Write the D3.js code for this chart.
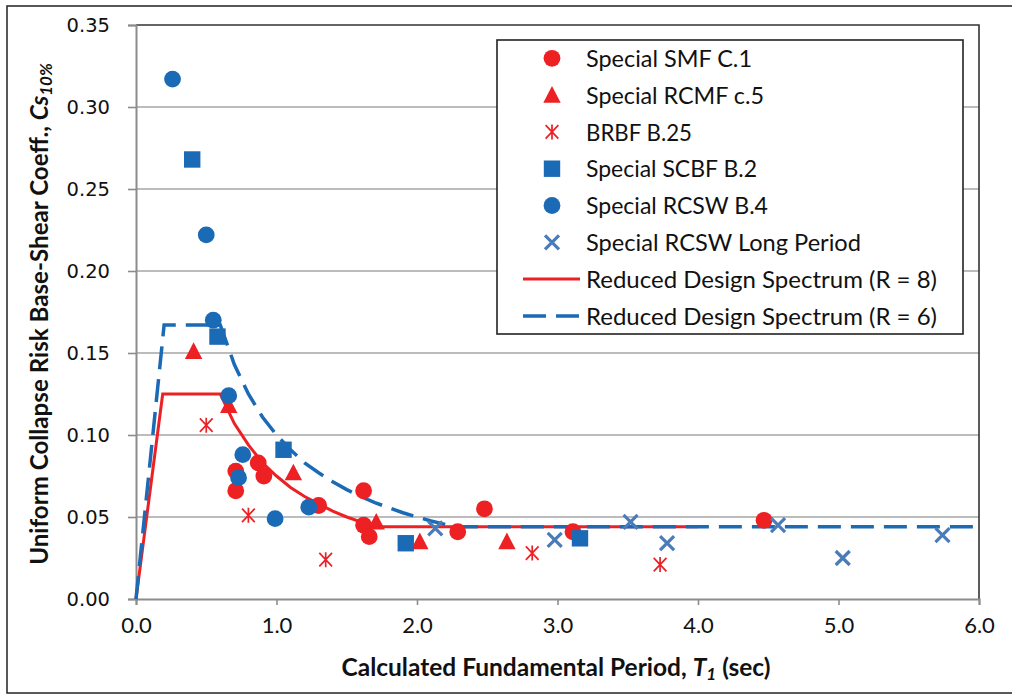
<!DOCTYPE html>
<html><head><meta charset="utf-8">
<script src="https://cdn.jsdelivr.net/npm/d3@7"></script>
<style>
html,body{margin:0;padding:0;background:#fff;}
svg{display:block;}
</style></head>
<body>
<svg id="chart" width="1012" height="698"></svg>
<script>
// ---- data ----
const smfT  = [0.71, 0.71, 0.87, 0.91, 1.30, 1.62, 1.62, 1.66, 2.29, 2.48, 3.11, 4.47];
const smfCs = [0.078, 0.066, 0.083, 0.075, 0.057, 0.066, 0.045, 0.038, 0.041, 0.055, 0.041, 0.048];
const rcmfT  = [0.41, 0.66, 1.12, 1.71, 2.02, 2.64];
const rcmfCs = [0.151, 0.118, 0.077, 0.047, 0.035, 0.035];
const brbfT  = [0.50, 0.80, 1.35, 2.82, 3.73];
const brbfCs = [0.106, 0.051, 0.024, 0.028, 0.021];
const scbfT  = [0.40, 0.58, 1.05, 1.92, 3.16];
const scbfCs = [0.268, 0.160, 0.091, 0.034, 0.037];
const rcswT  = [0.26, 0.50, 0.55, 0.66, 0.76, 0.73, 0.99, 1.23];
const rcswCs = [0.317, 0.222, 0.170, 0.124, 0.088, 0.074, 0.049, 0.056];
const longT  = [2.13, 2.98, 3.52, 3.78, 4.57, 5.03, 5.74];
const longCs = [0.043, 0.036, 0.047, 0.034, 0.045, 0.025, 0.039];
const r8T  = [0, 0.19, 0.60, 0.70, 0.80, 0.90, 1.00, 1.10, 1.20, 1.30, 1.40, 1.50, 1.60, 1.70, 4.00];
const r8Cs = [0, 0.125, 0.125, 0.107, 0.094, 0.083, 0.075, 0.068, 0.0625, 0.058, 0.0536, 0.050, 0.047, 0.044, 0.044];
const r6T  = [0, 0.20, 0.60, 0.70, 0.80, 0.90, 1.00, 1.10, 1.20, 1.30, 1.40, 1.50, 1.60, 1.70, 1.80, 1.90, 2.00, 2.10, 2.20, 2.27, 6.00];
const r6Cs = [0, 0.167, 0.167, 0.143, 0.125, 0.111, 0.100, 0.091, 0.083, 0.077, 0.0715, 0.0667, 0.0625, 0.0588, 0.0556, 0.0526, 0.050, 0.0476, 0.0455, 0.044, 0.044];
const xTicks = [0, 1, 2, 3, 4, 5, 6];
const yTicks = [0, 0.05, 0.10, 0.15, 0.20, 0.25, 0.30, 0.35];
const legendLabels = ["Special SMF C.1", "Special RCMF c.5", "BRBF B.25", "Special SCBF B.2",
  "Special RCSW B.4", "Special RCSW Long Period", "Reduced Design Spectrum (R = 8)", "Reduced Design Spectrum (R = 6)"];
const legendWidths = [166, 178, 106, 171, 182, 275, 351, 351];

const RED = "#ED2024", BLUE = "#1B6AB5", XBLUE = "#4A7CBA";
const FONT = "Lato, 'Open Sans', sans-serif";

const svg = d3.select("#chart");
const L = 136, R = 979, T = 25, B = 599;
const x = d3.scaleLinear().domain([0, 6]).range([L, R]);
const y = d3.scaleLinear().domain([0, 0.35]).range([B, T]);

// outer frame
svg.append("rect").attr("x", 7).attr("y", 6).attr("width", 1015).attr("height", 687)
  .attr("fill", "#fff").attr("stroke", "#222").attr("stroke-width", 1.5);

// gridlines
svg.append("g").selectAll("line").data(yTicks.filter(d => d > 0 && d < 0.35)).join("line")
  .attr("x1", L).attr("x2", R).attr("y1", d => y(d)).attr("y2", d => y(d))
  .attr("stroke", "#A6A6A6").attr("stroke-width", 1.6);

// plot border (top & right dark)
svg.append("path").attr("d", `M${L},${T}H${R}V${B}`).attr("fill", "none")
  .attr("stroke", "#333").attr("stroke-width", 1.6);

// axes
const yAxis = d3.axisLeft(y).tickValues(yTicks).tickFormat(d3.format(".2f")).tickSize(8).tickPadding(18);
const gy = svg.append("g").attr("transform", `translate(${L},0)`).call(yAxis);
gy.select(".domain").attr("stroke", "#8C8C8C").attr("stroke-width", 2);
gy.selectAll(".tick line").attr("stroke", "#8C8C8C").attr("stroke-width", 1.6);
gy.selectAll(".tick text").attr("font-family", "'DejaVu Sans', Verdana, sans-serif")
  .attr("font-size", 19.5).attr("fill", "#111").attr("x", -26);

const xAxis = d3.axisBottom(x).tickValues(xTicks).tickFormat(d3.format(".1f")).tickSize(6).tickPadding(12);
const gx = svg.append("g").attr("transform", `translate(0,${B})`).call(xAxis);
gx.select(".domain").attr("stroke", "#8C8C8C").attr("stroke-width", 2);
gx.selectAll(".tick line").attr("stroke", "#8C8C8C").attr("stroke-width", 1.6);
gx.selectAll(".tick text").attr("font-family", FONT).attr("font-size", 22).attr("fill", "#111");

// spectrum lines
const line = d3.line().x(d => x(d[0])).y(d => y(d[1]));
svg.append("path").datum(r8T.map((t, i) => [t, r8Cs[i]])).attr("d", line)
  .attr("fill", "none").attr("stroke", RED).attr("stroke-width", 3);
svg.append("path").datum(r6T.map((t, i) => [t, r6Cs[i]])).attr("d", line)
  .attr("fill", "none").attr("stroke", BLUE).attr("stroke-width", 3.5).attr("stroke-dasharray", "23,10");

// marker drawers
function drawMarker(g, kind, cx, cy) {
  const c = g.attr("data-c");
  if (kind === "circle") {
    g.append("circle").attr("cx", cx).attr("cy", cy).attr("r", 8.4).attr("fill", c);
  } else if (kind === "square") {
    g.append("rect").attr("x", cx - 8.2).attr("y", cy - 8.2).attr("width", 16.4).attr("height", 16.4).attr("fill", c);
  } else if (kind === "triangle") {
    g.append("path").attr("d", `M${cx},${cy - 9}L${cx + 8.7},${cy + 7.6}L${cx - 8.7},${cy + 7.6}Z`).attr("fill", c);
  } else if (kind === "star") {
    const s = 7.5;
    g.append("path").attr("d", `M${cx - s * 0.85},${cy - s * 0.9}L${cx + s * 0.85},${cy + s * 0.9}M${cx + s * 0.85},${cy - s * 0.9}L${cx - s * 0.85},${cy + s * 0.9}M${cx},${cy - s}V${cy + s}`)
      .attr("stroke", c).attr("stroke-width", 1.7).attr("fill", "none");
  } else if (kind === "x") {
    const s = 7;
    g.append("path").attr("d", `M${cx - s},${cy - s}L${cx + s},${cy + s}M${cx + s},${cy - s}L${cx - s},${cy + s}`)
      .attr("stroke", c).attr("stroke-width", 3.2).attr("fill", "none");
  }
}
const series = [
  {T: smfT, C: smfCs, kind: "circle", color: RED},
  {T: rcmfT, C: rcmfCs, kind: "triangle", color: RED},
  {T: brbfT, C: brbfCs, kind: "star", color: RED},
  {T: scbfT, C: scbfCs, kind: "square", color: BLUE},
  {T: rcswT, C: rcswCs, kind: "circle", color: BLUE},
  {T: longT, C: longCs, kind: "x", color: XBLUE},
];
series.forEach(s => {
  const g = svg.append("g").attr("data-c", s.color);
  s.T.forEach((t, i) => drawMarker(g, s.kind, x(t), y(s.C[i])));
});

// legend
const lg = svg.append("g");
lg.append("rect").attr("x", 497).attr("y", 40).attr("width", 466).attr("height", 294)
  .attr("fill", "#fff").attr("stroke", "#222").attr("stroke-width", 1.6);
const legendKinds = ["circle", "triangle", "star", "square", "circle", "x", "line", "dash"];
const legendColors = [RED, RED, RED, BLUE, BLUE, XBLUE, RED, BLUE];
legendLabels.forEach((lab, i) => {
  const cy = 58.3 + i * 36.8;
  const g = lg.append("g").attr("data-c", legendColors[i]);
  if (legendKinds[i] === "line") {
    g.append("line").attr("x1", 523).attr("x2", 580).attr("y1", cy).attr("y2", cy).attr("stroke", RED).attr("stroke-width", 3);
  } else if (legendKinds[i] === "dash") {
    g.append("line").attr("x1", 523).attr("x2", 580).attr("y1", cy).attr("y2", cy).attr("stroke", BLUE)
      .attr("stroke-width", 3.5).attr("stroke-dasharray", "23,10");
  } else {
    drawMarker(g, legendKinds[i], 552, cy);
  }
  g.append("text").attr("x", 586).attr("y", cy).attr("dy", "0.36em")
    .attr("font-family", FONT).attr("font-size", 24).attr("fill", "#111")
    .attr("textLength", legendWidths[i]).attr("lengthAdjust", "spacingAndGlyphs").text(lab);
});

// axis titles (horizontally condensed to the reference width)
function condense(sel, cx, cy, target, rotate) {
  const w = sel.node().getBBox().width;
  const k = target / w;
  sel.attr("transform", `translate(${cx},${cy})${rotate ? " rotate(-90)" : ""} scale(${k},1)`);
}
const xt = svg.append("text").attr("x", 0).attr("y", 0).attr("text-anchor", "middle")
  .attr("font-family", FONT).attr("font-weight", "bold").attr("font-size", 24).attr("fill", "#111");
xt.append("tspan").text("Calculated Fundamental Period, ");
xt.append("tspan").attr("font-style", "italic").text("T");
xt.append("tspan").attr("font-style", "italic").attr("font-size", "70%").attr("dy", 4).text("1");
xt.append("tspan").attr("dy", -4).text(" (sec)");
condense(xt, 556, 676, 429, false);

const yt = svg.append("text").attr("x", 0).attr("y", 0).attr("text-anchor", "middle")
  .attr("font-family", FONT).attr("font-weight", "bold").attr("font-size", 24).attr("fill", "#111");
yt.append("tspan").text("Uniform Collapse Risk Base-Shear Coeff., ");
yt.append("tspan").attr("font-style", "italic").text("Cs");
yt.append("tspan").attr("font-style", "italic").attr("font-size", "70%").attr("dy", 4).text("10%");
condense(yt, 48, 314, 502, true);
</script>
</body></html>
